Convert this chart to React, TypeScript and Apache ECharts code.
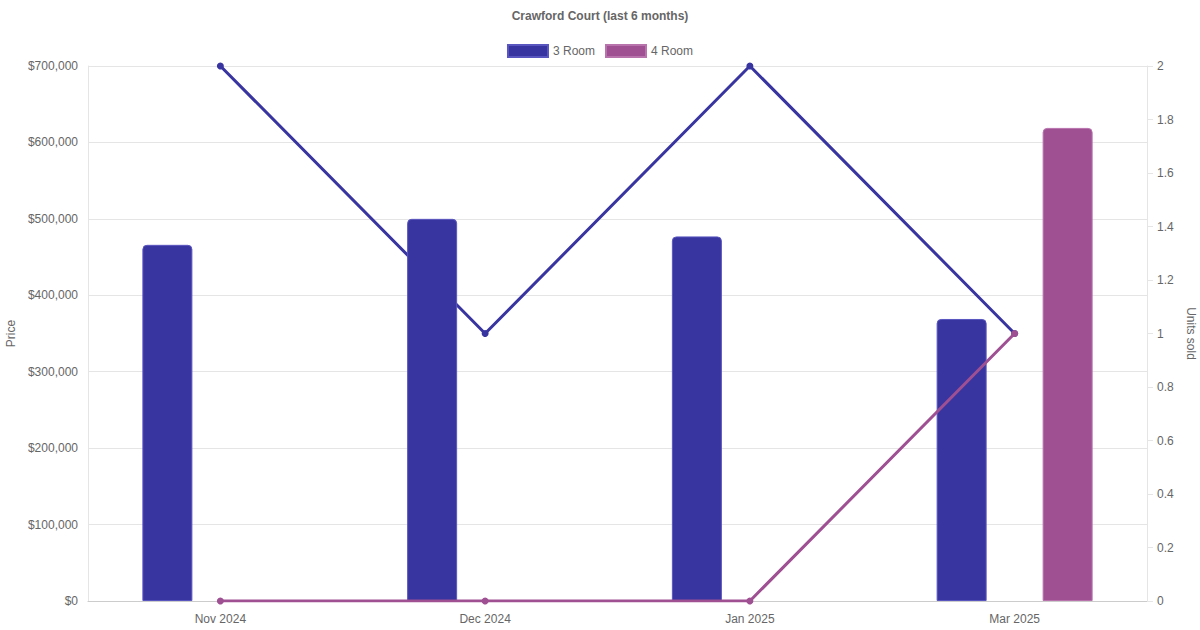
import React, { useEffect, useRef } from "react";
import * as echarts from "echarts";

const categories = ["Nov 2024", "Dec 2024", "Jan 2025", "Mar 2025"];
const price3Room = [466000, 500000, 477000, 369000];
const price4Room: (number | string)[] = ["-", "-", "-", 619000];
const units3Room = [2, 1, 2, 1];
const units4Room = [0, 0, 0, 1];
const priceTicks = { min: 0, max: 700000, interval: 100000 };
const unitTicks = { min: 0, max: 2, interval: 0.2 };

const BLUE = "#3935a0";
const PURPLE = "#9e5093";
const FONT = "Liberation Sans, Arial, sans-serif";

export default function App() {
  const ref = useRef<HTMLDivElement>(null);
  useEffect(() => {
    if (!ref.current) return;
    const chart = echarts.init(ref.current, undefined, { renderer: "svg", width: 1200, height: 630 });
    chart.setOption({
      animation: false,
      textStyle: { fontFamily: FONT },
      title: {
        text: "Crawford Court (last 6 months)",
        left: "center",
        top: 5,
        textStyle: { fontSize: 12, fontWeight: "bold", color: "#666", fontFamily: FONT },
      },
      legend: {
        top: 39,
        left: "center",
        itemWidth: 40,
        itemHeight: 12,
        itemGap: 10,
        icon: "rect",
        data: ["3 Room", "4 Room"],
        textStyle: { fontSize: 12, color: "#666", fontFamily: FONT },
      },
      grid: { left: 88, right: 53, top: 66, bottom: 29, containLabel: false, outerBoundsMode: "none" },
      xAxis: {
        type: "category",
        data: categories,
        boundaryGap: true,
        axisLine: { show: true, lineStyle: { color: "#ccc" } },
        axisTick: { show: false },
        axisLabel: { color: "#666", fontSize: 12, margin: 12, fontFamily: FONT },
        splitLine: { show: false },
      },
      yAxis: [
        {
          type: "value",
          min: priceTicks.min,
          max: priceTicks.max,
          interval: priceTicks.interval,
          name: "Price",
          nameLocation: "middle",
          nameGap: 71,
          nameTextStyle: { color: "#666", fontSize: 12, fontFamily: FONT },
          axisLine: { show: true, lineStyle: { color: "#e5e5e5" } },
          axisTick: { show: false },
          axisLabel: {
            color: "#666",
            fontSize: 12,
            margin: 10,
            fontFamily: FONT,
            formatter: (v: number) => "$" + v.toLocaleString("en-US"),
          },
          splitLine: { show: true, lineStyle: { color: "#e5e5e5" } },
        },
        {
          type: "value",
          position: "right",
          min: unitTicks.min,
          max: unitTicks.max,
          interval: unitTicks.interval,
          name: "Units sold",
          nameLocation: "middle",
          nameGap: 36,
          nameRotate: -90,
          nameTextStyle: { color: "#666", fontSize: 12, fontFamily: FONT },
          axisLine: { show: true, lineStyle: { color: "#e5e5e5" } },
          axisTick: { show: true, length: 6, lineStyle: { color: "#e5e5e5" } },
          axisLabel: {
            color: "#666",
            fontSize: 12,
            margin: 10,
            fontFamily: FONT,
            formatter: (v: number) => String(Number(v.toFixed(1))),
          },
          splitLine: { show: false },
        },
      ],
      series: [
        {
          name: "3 Room",
          type: "bar",
          yAxisIndex: 0,
          data: price3Room,
          barWidth: 50,
          barGap: "112%",
          z: 3,
          itemStyle: { color: BLUE, borderColor: "#5a56c0", borderWidth: 1, borderRadius: [4, 4, 0, 0] },
        },
        {
          name: "4 Room",
          type: "bar",
          yAxisIndex: 0,
          data: price4Room,
          barWidth: 50,
          barGap: "112%",
          z: 5,
          itemStyle: { color: PURPLE, borderColor: "#b873ad", borderWidth: 1, borderRadius: [4, 4, 0, 0] },
        },
        {
          name: "3 Room",
          type: "line",
          yAxisIndex: 1,
          data: units3Room,
          z: 2,
          symbol: "circle",
          symbolSize: 7,
          showAllSymbol: true,
          lineStyle: { color: BLUE, width: 3 },
          itemStyle: { color: BLUE },
        },
        {
          name: "4 Room",
          type: "line",
          yAxisIndex: 1,
          data: units4Room,
          z: 4,
          symbol: "circle",
          symbolSize: 7,
          showAllSymbol: true,
          lineStyle: { color: PURPLE, width: 3 },
          itemStyle: { color: PURPLE },
        },
      ],
    });
    return () => chart.dispose();
  }, []);
  return (
    <div
      ref={ref}
      style={{ position: "absolute", left: 0, top: 0, width: "1200px", height: "630px" }}
    />
  );
}
